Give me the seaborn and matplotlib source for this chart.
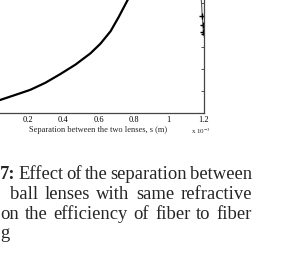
import matplotlib
matplotlib.use("Agg")
import matplotlib.pyplot as plt
import seaborn as sns
import pandas as pd
import numpy as np

# ---- data (separation in units of 1e-3 m, efficiency in %) ----
sep = [0.0, 0.04, 0.126, 0.211, 0.297, 0.383, 0.469, 0.554, 0.611, 0.669, 0.714, 0.766, 0.80]
eff = [5.0, 5.9, 8.2, 10.5, 13.7, 17.7, 22.0, 27.1, 31.5, 37.2, 43.5, 51.4, 57.0]
sep_drop = [1.175, 1.183, 1.190, 1.194, 1.197, 1.200]
eff_drop = [70.0, 54.0, 44.0, 40.0, 37.0, 36.0]
xticks = [0.2, 0.4, 0.6, 0.8, 1.0, 1.2]
xtick_labels = ["0.2", "0.4", "0.6", "0.8", "1", "1.2"]
yticks = [0, 10, 20, 30, 40, 50, 60]
xlabel = "Separation between the two lenses, s (m)"
caption_lines = [
    [("7:", "bold"), ("Effect", "normal"), ("of", "normal"), ("the", "normal"),
     ("separation", "normal"), ("between", "normal")],
    [("ball", "normal"), ("lenses", "normal"), ("with", "normal"), ("same", "normal"),
     ("refractive", "normal")],
    [("on", "normal"), ("the", "normal"), ("efficiency", "normal"), ("of", "normal"),
     ("fiber", "normal"), ("to", "normal"), ("fiber", "normal")],
    [("g", "normal")],
]

sns.set_style("white")
plt.rcParams["font.family"] = ["Liberation Serif", "DejaVu Serif"]
plt.rcParams["mathtext.fontset"] = "stix"

W, H = 287, 270
fig = plt.figure(figsize=(W / 100, H / 100), dpi=100)
ax = fig.add_axes([-7 / W, 157 / H, 211 / W, 132 / H])

df = pd.DataFrame({"s": sep, "eff": eff})
sns.lineplot(data=df, x="s", y="eff", ax=ax, color="black", linewidth=1.6, sort=False)
df2 = pd.DataFrame({"s": sep_drop, "eff": eff_drop})
sns.lineplot(data=df2, x="s", y="eff", ax=ax, color="#555555", linewidth=0.8,
             marker="+", markersize=4, markeredgecolor="black", markeredgewidth=1.0, sort=False)

ax.set_xlim(0, 1.2)
ax.set_ylim(0, 60)
ax.set_xticks(xticks)
ax.set_xticklabels(xtick_labels)
ax.set_yticks(yticks)
ax.set_xlabel(xlabel, fontsize=6, labelpad=1.5)
ax.set_ylabel("")
ax.tick_params(axis="both", direction="in", length=2.5, width=0.6, colors="#333333",
               labelsize=6, pad=2, top=True, right=True, labelcolor="black")
ax.tick_params(axis="y", labelleft=False)
for sp in ax.spines.values():
    sp.set_visible(True)
    sp.set_color("#444444")
    sp.set_linewidth(0.9)

fig.text(191 / W, 1 - 131 / H, r"x 10$^{-3}$", fontsize=5, va="center", ha="left")

# ---- justified caption ----
fs = 13.4
baselines = [179, 199, 219, 238]
lefts = [0, 10, 0, 0]
right = 252
renderer = fig.canvas.get_renderer()
for li, words in enumerate(caption_lines):
    y = 1 - baselines[li] / H
    texts = []
    widths = []
    for w, wt in words:
        t = fig.text(0, y, w, fontsize=fs, fontweight=wt, va="baseline", ha="left")
        bb = t.get_window_extent(renderer=renderer)
        texts.append(t)
        widths.append(bb.width)
    x0 = lefts[li]
    if len(words) > 1 and li < 3:
        gap = (right - x0 - sum(widths)) / (len(words) - 1)
    else:
        gap = 0
    x = x0
    for t, wdt in zip(texts, widths):
        t.set_x(x / W)
        x += wdt + gap

fig.savefig("out.png", dpi=100, facecolor="white")
